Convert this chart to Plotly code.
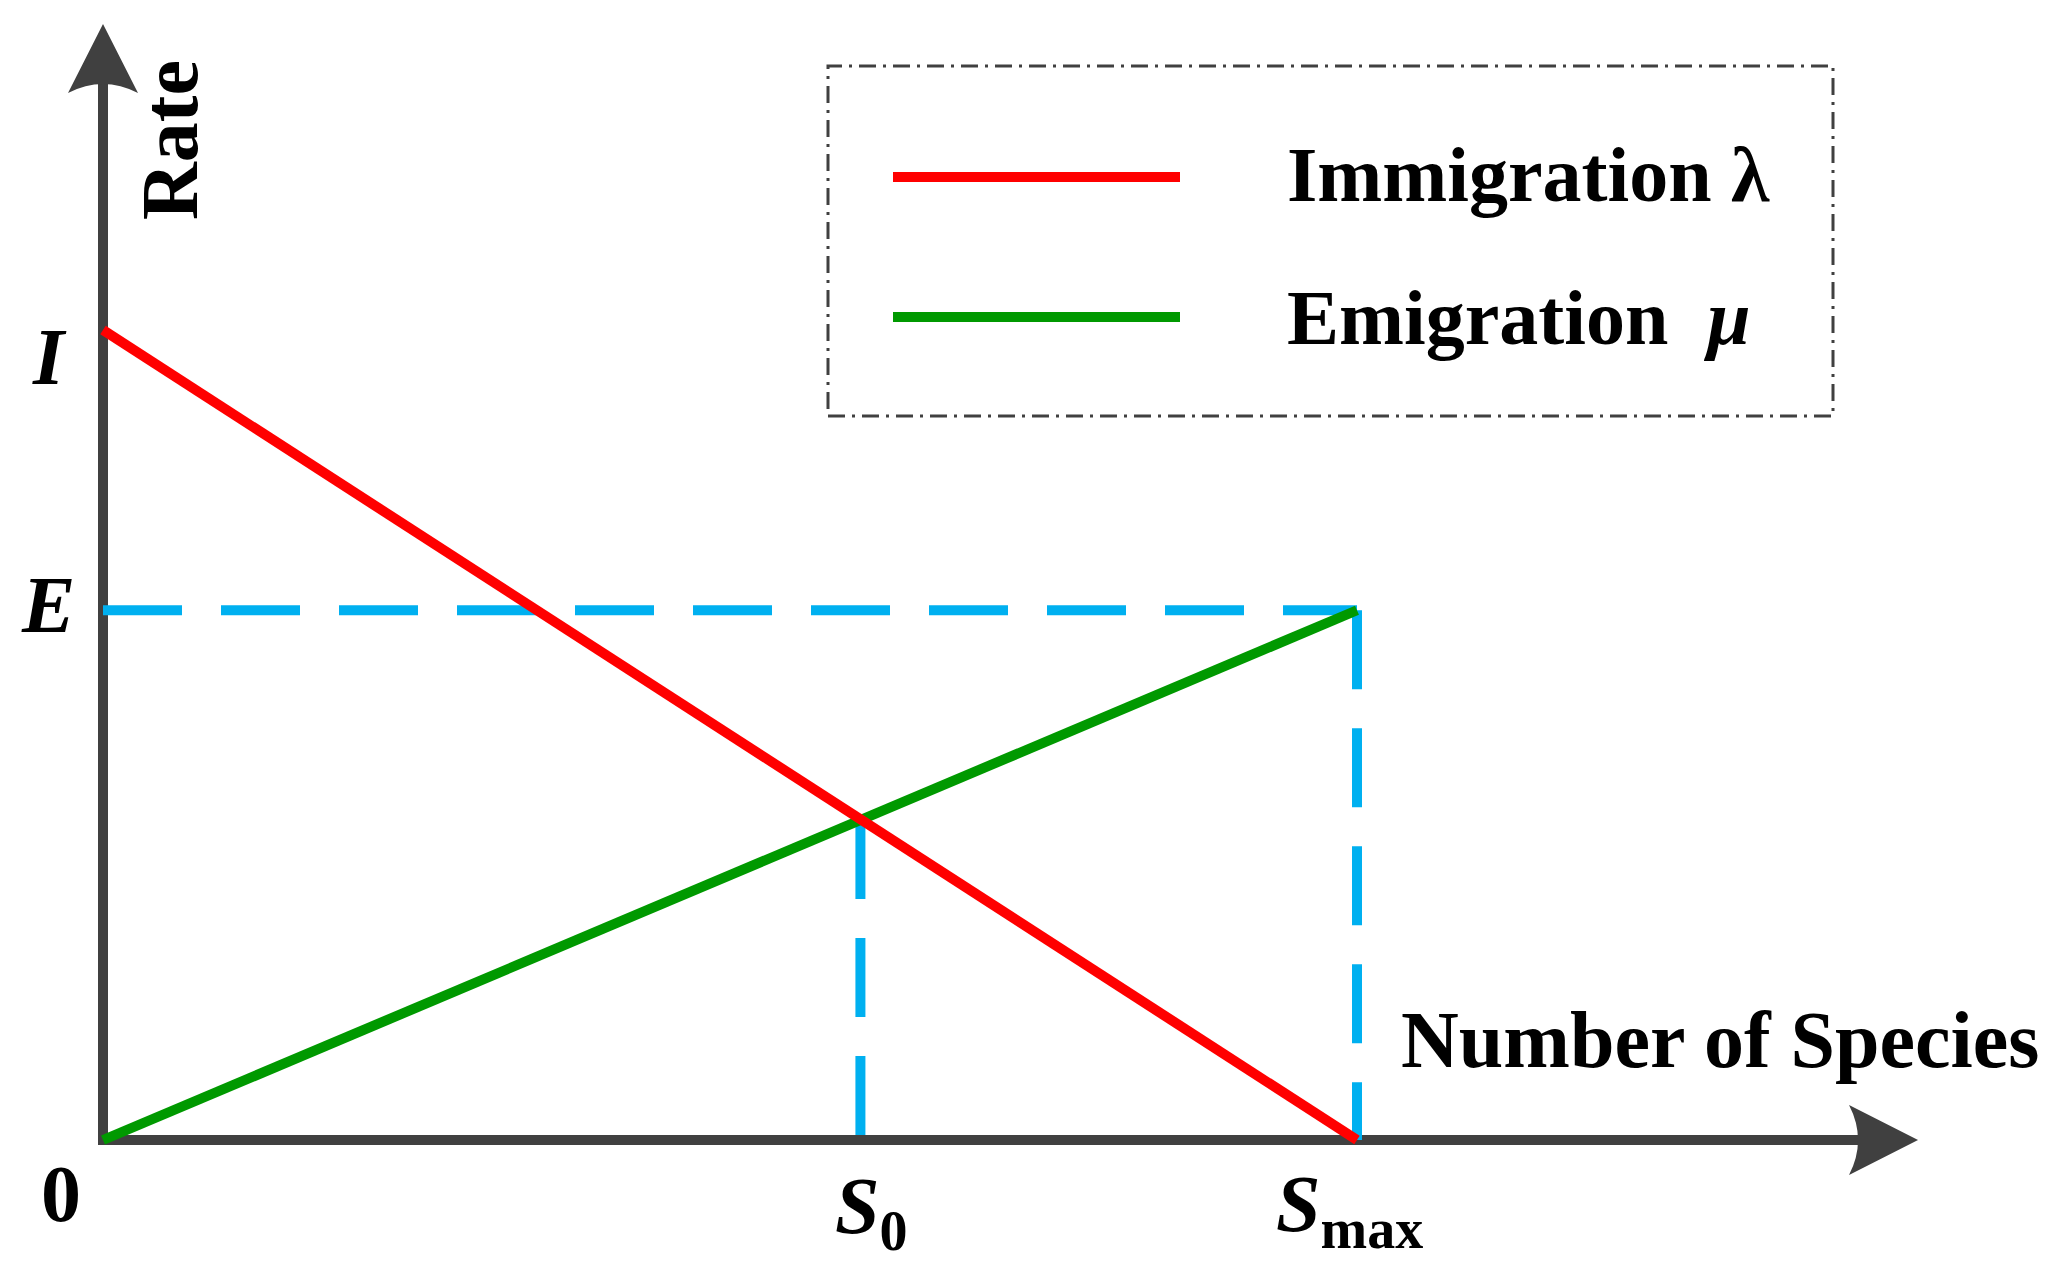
import plotly.graph_objects as go

# ---- data ----
species = [0.0, 1.0]            # 0 .. S_max
immigration = [1.0, 0.0]        # lambda: I -> 0
emigration = [0.0, 0.654]       # mu: 0 -> E
E_level = 0.654
S0 = 0.604
S_max = 1.0
cross_rate = 0.395
axis_x_end = 1.4474
axis_y_end = 1.3778

# ---- pixel <-> data mapping helpers ----
W, H = 2060, 1270
X0, XS = 103, 1254
Y0, YS = 1140, 810
def dx(px): return px / XS
def dy(px): return px / YS
def px_x(px): return px / W
def px_y(py): return 1 - py / H

AX = "#404040"
RED = "#FF0000"
GREEN = "#009900"
BLUE = "#00B0F0"
FONT = "Liberation Serif"

fig = go.Figure()

dash = "79px,39px"
fig.add_trace(go.Scatter(x=[0, S_max], y=[E_level, E_level], mode="lines",
                         line=dict(color=BLUE, width=10, dash=dash), hoverinfo="skip"))
fig.add_trace(go.Scatter(x=[S_max, S_max], y=[E_level, 0], mode="lines",
                         line=dict(color=BLUE, width=10, dash=dash), hoverinfo="skip"))
fig.add_trace(go.Scatter(x=[S0, S0], y=[cross_rate, 0], mode="lines",
                         line=dict(color=BLUE, width=10, dash=dash), hoverinfo="skip"))
fig.add_trace(go.Scatter(x=species, y=emigration, mode="lines",
                         line=dict(color=GREEN, width=10), hoverinfo="skip"))
fig.add_trace(go.Scatter(x=species, y=immigration, mode="lines",
                         line=dict(color=RED, width=10), hoverinfo="skip"))

shapes = []
# axes
shapes.append(dict(type="line", xref="x", yref="y", x0=0, x1=0, y0=-dy(5), y1=axis_y_end - dy(60),
                   line=dict(color=AX, width=10), layer="below"))
shapes.append(dict(type="line", xref="x", yref="y", x0=-dx(5), x1=axis_x_end - dx(60), y0=0, y1=0,
                   line=dict(color=AX, width=10), layer="below"))
# arrowheads
L, HW, NOTCH = 69, 35, 9
yb = axis_y_end - dy(L)
p = (f"M 0,{axis_y_end} L {-dx(HW)},{yb} Q 0,{yb + dy(2*NOTCH)} {dx(HW)},{yb} Z")
shapes.append(dict(type="path", xref="x", yref="y", path=p, fillcolor=AX,
                   line=dict(color=AX, width=0), layer="below"))
xb = axis_x_end - dx(L)
p = (f"M {axis_x_end},0 L {xb},{dy(HW)} Q {xb + dx(2*NOTCH)},0 {xb},{-dy(HW)} Z")
shapes.append(dict(type="path", xref="x", yref="y", path=p, fillcolor=AX,
                   line=dict(color=AX, width=0), layer="below"))
# legend box
shapes.append(dict(type="rect", xref="paper", yref="paper",
                   x0=px_x(828), x1=px_x(1833), y0=px_y(416), y1=px_y(66),
                   line=dict(color=AX, width=3, dash="17px,7px,3px,7px")))
shapes.append(dict(type="line", xref="paper", yref="paper", x0=px_x(893), x1=px_x(1180),
                   y0=px_y(177), y1=px_y(177), line=dict(color=RED, width=10)))
shapes.append(dict(type="line", xref="paper", yref="paper", x0=px_x(893), x1=px_x(1180),
                   y0=px_y(317), y1=px_y(317), line=dict(color=GREEN, width=10)))

def ann(text, x, y, xanchor="center", size=80, angle=0):
    return dict(text=text, x=px_x(x), y=px_y(y), xref="paper", yref="paper",
                xanchor=xanchor, yanchor="middle", showarrow=False, textangle=angle,
                font=dict(family=FONT, size=size, color="black"))

annotations = [
    ann("<b><i>I</i></b>", 49, 357),
    ann("<b><i>E</i></b>", 48, 605),
    ann("<b>0</b>", 61, 1194),
    ann("<b><i>S</i><sub>0</sub></b>", 871, 1212),
    ann("<b><i>S</i><sub>max</sub></b>", 1349, 1210),
    ann("<b>Rate</b>", 170, 140, angle=-90),
    ann("<b>Number of Species</b>", 1720, 1040),
    ann("<b>Immigration λ</b>", 1285, 174, xanchor="left", size=78),
    ann("<b>Emigration\u00a0\u00a0<i>μ</i></b>", 1285, 317, xanchor="left", size=78),
]

fig.update_layout(
    width=W, height=H, margin=dict(l=0, r=0, t=0, b=0),
    paper_bgcolor="white", plot_bgcolor="white", showlegend=False,
    shapes=shapes, annotations=annotations, hovermode=False,
    xaxis=dict(range=[-X0 / XS, (W - X0) / XS], visible=False, fixedrange=True),
    yaxis=dict(range=[-(H - Y0) / YS, Y0 / YS], visible=False, fixedrange=True),
)

fig.write_html("out.html", config={"displayModeBar": False},
               post_script="document.body.style.margin='0';")
